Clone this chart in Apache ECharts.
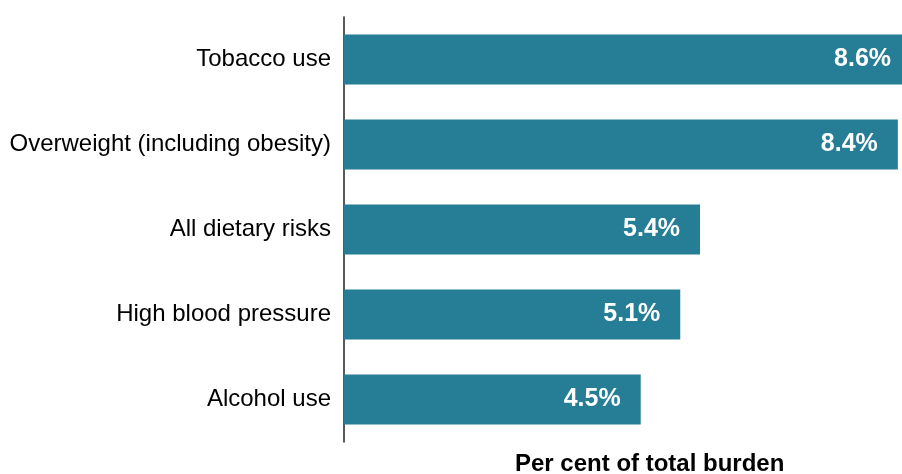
<!DOCTYPE html>
<html><head><meta charset="utf-8">
<script src="https://cdn.jsdelivr.net/npm/echarts@6/dist/echarts.min.js"></script>
<style>html,body{margin:0;padding:0;background:#fff}#c{width:902px;height:474px}</style>
</head><body><div id="c"></div>
<script>
var categories = ["Tobacco use", "Overweight (including obesity)", "All dietary risks", "High blood pressure", "Alcohol use"];
var values = [8.6, 8.4, 5.4, 5.1, 4.5];
var axisTitle = "Per cent of total burden";

var chart = echarts.init(document.getElementById('c'), null, {renderer: 'canvas'});
chart.setOption({
  animation: false,
  grid: {left: 344, right: 0, top: 17, bottom: 32, containLabel: false},
  title: {text: axisTitle, left: 515, top: 452, padding: 0,
    textStyle: {fontFamily: 'Liberation Sans, Arial', fontSize: 24, fontWeight: 'bold', color: '#000'}},
  xAxis: {type: 'value', min: 0, max: 8.463, show: false},
  yAxis: {type: 'category', data: categories, inverse: true,
    axisLine: {show: true, lineStyle: {color: '#222', width: 1.5}},
    axisTick: {show: false},
    axisLabel: {margin: 13, fontFamily: 'Liberation Sans, Arial', fontSize: 24, color: '#000'}},
  series: [{type: 'bar', data: values, barWidth: 50, clip: false,
    itemStyle: {color: '#257e95'},
    label: {show: true, position: 'insideRight', distance: 20,
      formatter: function(p){ return p.value.toFixed(1) + '%'; },
      fontFamily: 'Liberation Sans, Arial', fontSize: 25, fontWeight: 'bold', color: '#fff'}}]
});
</script></body></html>
